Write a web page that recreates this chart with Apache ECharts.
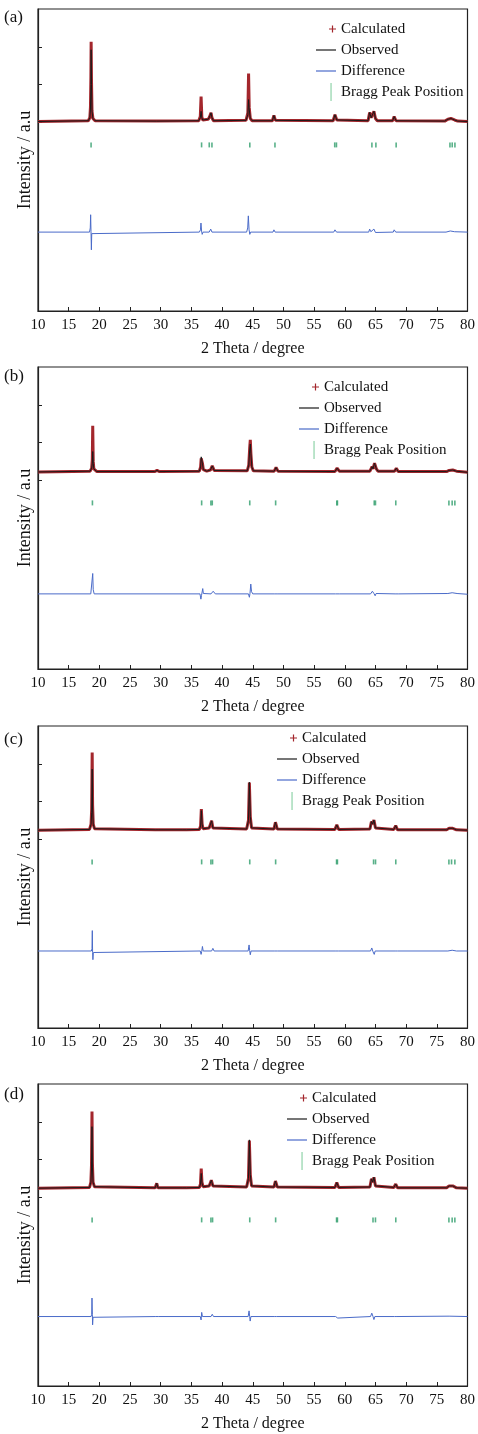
<!DOCTYPE html>
<html>
<head>
<meta charset="utf-8">
<script src="https://cdn.jsdelivr.net/npm/echarts@6/dist/echarts.min.js"></script>
<style>
  html, body { margin: 0; padding: 0; background: #fff; }
  #chart { width: 478px; height: 1434px; }
</style>
</head>
<body>
<div id="chart"></div>
<script>
// x axis ticks (2 Theta, degree)
const xMin = 10, xMax = 80, xStep = 5;
// left y ticks shown in each panel
const yTickValues = [5, 6, 7];

// ---------- panel (a) ----------
const obsA = [[10,5.02],[18.2,5.04],[18.45,5.12],[18.55,5.35],[18.62,6.0],[18.66,6.92],[18.72,6.0],[18.8,5.3],[18.95,5.1],[19.3,5.04],
  [29.3,5.03],[36.2,5.04],[36.45,5.12],[36.58,5.29],[36.7,5.12],[36.85,5.06],[37.75,5.08],[37.95,5.14],[38.05,5.1],[38.2,5.25],[38.35,5.12],[38.6,5.04],
  [43.9,5.05],[44.2,5.2],[44.32,5.6],[44.42,5.35],[44.6,5.1],[44.9,5.04],[48.2,5.04],[48.45,5.18],[48.7,5.05],
  [58.1,5.04],[58.4,5.2],[58.7,5.06],[58.9,5.03],[63.8,5.04],[64.05,5.26],[64.3,5.12],[64.5,5.15],[64.75,5.29],[65.0,5.1],[65.3,5.04],
  [67.8,5.04],[68.05,5.15],[68.35,5.04],[76.3,5.03],[76.8,5.08],[77.3,5.1],[77.9,5.06],[78.4,5.03],[80,5.02]];
const calcA = [[10,5.02],[18.2,5.04],[18.45,5.12],[18.55,5.4],[18.62,6.2],[18.66,7.13],[18.72,6.1],[18.8,5.3],[18.95,5.1],[19.3,5.04],
  [29.3,5.03],[36.2,5.04],[36.45,5.15],[36.58,5.68],[36.7,5.14],[36.85,5.06],[37.75,5.08],[37.95,5.14],[38.05,5.1],[38.2,5.25],[38.35,5.12],[38.6,5.04],
  [43.9,5.05],[44.2,5.25],[44.32,6.29],[44.42,5.4],[44.6,5.1],[44.9,5.04],[48.2,5.04],[48.45,5.18],[48.7,5.05],
  [58.1,5.04],[58.4,5.2],[58.7,5.06],[58.9,5.03],[63.8,5.04],[64.05,5.26],[64.3,5.12],[64.5,5.15],[64.75,5.29],[65.0,5.1],[65.3,5.04],
  [67.8,5.04],[68.05,5.15],[68.35,5.04],[76.3,5.03],[76.8,5.08],[77.3,5.1],[77.9,5.06],[78.4,5.03],[80,5.02]];
const diffA = [[10,2.09],[18.4,2.09],[18.52,2.2],[18.58,2.55],[18.64,2.1],[18.7,1.62],[18.76,2.05],[18.9,2.09],
  [36.3,2.09],[36.48,2.15],[36.56,2.33],[36.66,2.12],[36.76,2.03],[36.9,2.09],[37.9,2.09],[38.15,2.17],[38.35,2.09],
  [44.0,2.09],[44.18,2.2],[44.28,2.52],[44.4,2.15],[44.52,2.03],[44.65,2.09],[48.3,2.09],[48.45,2.15],[48.65,2.09],
  [58.2,2.09],[58.4,2.15],[58.65,2.09],[63.9,2.09],[64.05,2.17],[64.25,2.1],[64.5,2.12],[64.75,2.17],[65.0,2.08],[65.2,2.09],
  [67.9,2.09],[68.05,2.15],[68.3,2.09],[76.5,2.09],[77.2,2.12],[77.9,2.1],[80,2.09]];
const braggA = [18.65, 36.66, 37.91, 38.35, 44.52, 48.62, 58.36, 58.64, 64.42, 65.07, 68.37, 77.14, 77.51, 77.95];

// ---------- panel (b) ----------
const obsB = [[10,5.22],[18.5,5.24],[18.75,5.32],[18.85,5.45],[18.92,5.76],[19.0,5.45],[19.1,5.3],[19.3,5.25],[19.6,5.23],
  [29.0,5.23],[29.4,5.26],[29.8,5.23],[36.3,5.24],[36.5,5.35],[36.6,5.62],[36.7,5.58],[36.8,5.45],[36.95,5.28],[37.5,5.24],
  [38.1,5.27],[38.4,5.38],[38.7,5.26],[39.0,5.23],[44.1,5.25],[44.35,5.4],[44.5,5.8],[44.6,5.96],[44.7,5.7],[44.85,5.35],[45.1,5.25],
  [48.5,5.24],[48.8,5.34],[49.1,5.24],[58.4,5.23],[58.75,5.32],[59.1,5.24],
  [64.1,5.24],[64.45,5.36],[64.6,5.3],[64.85,5.45],[65.15,5.3],[65.4,5.24],[68.1,5.24],[68.4,5.32],[68.7,5.23],
  [76.6,5.23],[77.0,5.26],[77.6,5.27],[78.2,5.24],[80,5.21]];
const calcB = [[10,5.22],[18.5,5.24],[18.75,5.32],[18.85,5.55],[18.92,6.44],[19.0,5.5],[19.1,5.3],[19.3,5.25],[19.6,5.23],
  [29.0,5.23],[29.4,5.26],[29.8,5.23],[36.3,5.24],[36.5,5.35],[36.6,5.58],[36.7,5.55],[36.8,5.45],[36.95,5.28],[37.5,5.24],
  [38.1,5.27],[38.4,5.38],[38.7,5.26],[39.0,5.23],[44.1,5.25],[44.35,5.4],[44.5,5.85],[44.6,6.07],[44.7,5.7],[44.85,5.35],[45.1,5.25],
  [48.5,5.24],[48.8,5.34],[49.1,5.24],[58.4,5.23],[58.75,5.32],[59.1,5.24],
  [64.1,5.24],[64.45,5.36],[64.6,5.3],[64.85,5.45],[65.15,5.3],[65.4,5.24],[68.1,5.24],[68.4,5.32],[68.7,5.23],
  [76.6,5.23],[77.0,5.26],[77.6,5.27],[78.2,5.24],[80,5.21]];
const diffB = [[10,1.99],[18.6,1.99],[18.75,1.94],[18.85,2.0],[18.92,2.53],[19.0,2.1],[19.15,1.99],
  [36.4,1.99],[36.55,1.85],[36.65,1.95],[36.85,2.13],[36.95,2.0],[37.2,1.99],[38.2,1.99],[38.55,2.06],[38.9,1.99],
  [44.3,1.99],[44.45,1.9],[44.55,2.0],[44.68,2.25],[44.8,2.05],[45.0,1.99],[48.6,1.99],[48.85,2.04],[49.1,1.99],
  [58.5,1.99],[58.8,2.02],[59.1,1.99],[64.2,1.99],[64.5,2.06],[64.75,2.0],[64.95,1.94],[65.1,2.0],[65.3,1.99],
  [68.2,1.99],[68.5,2.02],[68.8,1.99],[76.8,2.0],[77.5,2.02],[78.3,2.0],[80,1.98]];
const braggB = [18.87, 36.67, 38.18, 38.4, 44.51, 48.73, 58.7, 58.8, 64.8, 65.0, 68.31, 76.97, 77.5, 77.94];

// ---------- panel (c) ----------
const obsC = [[10,5.24],[18.4,5.26],[18.65,5.4],[18.75,5.7],[18.83,6.86],[18.9,5.8],[19.0,5.4],[19.2,5.28],[19.5,5.25],
  [29.1,5.25],[29.4,5.28],[29.7,5.25],[33.6,5.25],[33.9,5.27],[34.2,5.25],
  [36.3,5.26],[36.5,5.35],[36.62,5.76],[36.75,5.4],[36.9,5.28],[37.9,5.3],[38.3,5.49],[38.5,5.3],[38.8,5.26],
  [44.0,5.27],[44.3,5.5],[44.45,6.51],[44.6,5.6],[44.8,5.3],[45.1,5.26],[48.45,5.27],[48.7,5.45],[49.0,5.27],
  [58.4,5.26],[58.7,5.38],[59.0,5.26],[64.1,5.27],[64.35,5.47],[64.55,5.4],[64.75,5.51],[65.0,5.3],[65.3,5.25],
  [68.0,5.26],[68.3,5.36],[68.6,5.25],[76.6,5.25],[77.0,5.29],[77.6,5.29],[78.2,5.25],[80,5.24]];
const calcC = [[10,5.24],[18.4,5.26],[18.65,5.4],[18.75,5.8],[18.83,7.3],[18.9,5.9],[19.0,5.4],[19.2,5.28],[19.5,5.25],
  [29.1,5.25],[29.4,5.28],[29.7,5.25],[33.6,5.25],[33.9,5.27],[34.2,5.25],
  [36.3,5.26],[36.5,5.35],[36.62,5.8],[36.75,5.4],[36.9,5.28],[37.9,5.3],[38.3,5.49],[38.5,5.3],[38.8,5.26],
  [44.0,5.27],[44.3,5.5],[44.45,6.5],[44.6,5.6],[44.8,5.3],[45.1,5.26],[48.45,5.27],[48.7,5.45],[49.0,5.27],
  [58.4,5.26],[58.7,5.38],[59.0,5.26],[64.1,5.27],[64.35,5.47],[64.55,5.4],[64.75,5.51],[65.0,5.3],[65.3,5.25],
  [68.0,5.26],[68.3,5.36],[68.6,5.25],[76.6,5.25],[77.0,5.29],[77.6,5.29],[78.2,5.25],[80,5.24]];
const diffC = [[10,2.04],[18.7,2.04],[18.8,2.1],[18.85,2.58],[18.9,2.0],[18.95,1.81],[19.02,2.0],[19.2,2.04],
  [36.45,2.04],[36.58,1.95],[36.68,2.02],[36.8,2.16],[36.92,2.04],[38.3,2.04],[38.5,2.11],[38.7,2.04],
  [44.25,2.04],[44.4,2.2],[44.5,2.05],[44.6,1.94],[44.72,2.04],[48.6,2.04],[48.8,2.09],[49.0,2.04],
  [58.55,2.04],[58.7,2.08],[58.85,2.0],[59.0,2.04],[64.2,2.04],[64.4,2.12],[64.6,2.02],[64.8,1.95],[64.95,2.04],
  [68.2,2.04],[68.4,2.07],[68.6,2.04],[76.8,2.04],[77.5,2.06],[78.2,2.04],[80,2.04]];
const braggC = [18.82, 36.67, 38.18, 38.45, 44.51, 48.73, 58.66, 58.8, 64.69, 65.01, 68.31, 76.97, 77.4, 77.94];

// ---------- panel (d) ----------
const obsD = [[10,5.24],[18.4,5.26],[18.62,5.4],[18.72,5.75],[18.8,6.87],[18.87,5.8],[18.97,5.4],[19.2,5.28],[19.5,5.25],
  [29.1,5.25],[29.35,5.37],[29.55,5.25],[33.6,5.25],[33.9,5.27],[34.2,5.25],
  [36.3,5.26],[36.48,5.35],[36.6,5.63],[36.72,5.38],[36.9,5.28],[37.9,5.3],[38.25,5.45],[38.5,5.3],[38.8,5.26],
  [44.0,5.27],[44.3,5.5],[44.45,6.52],[44.6,5.6],[44.8,5.3],[45.1,5.26],[48.45,5.27],[48.7,5.43],[49.0,5.27],
  [58.4,5.26],[58.7,5.39],[59.0,5.26],[64.1,5.27],[64.35,5.49],[64.55,5.4],[64.75,5.53],[65.0,5.3],[65.3,5.25],
  [68.0,5.26],[68.3,5.35],[68.6,5.25],[76.6,5.25],[77.0,5.3],[77.6,5.3],[78.2,5.25],[80,5.24]];
const calcD = [[10,5.24],[18.4,5.26],[18.62,5.4],[18.72,5.85],[18.8,7.27],[18.87,5.9],[18.97,5.4],[19.2,5.28],[19.5,5.25],
  [29.1,5.25],[29.35,5.37],[29.55,5.25],[33.6,5.25],[33.9,5.27],[34.2,5.25],
  [36.3,5.26],[36.48,5.35],[36.6,5.76],[36.72,5.4],[36.9,5.28],[37.9,5.3],[38.25,5.45],[38.5,5.3],[38.8,5.26],
  [44.0,5.27],[44.3,5.5],[44.45,6.5],[44.6,5.6],[44.8,5.3],[45.1,5.26],[48.45,5.27],[48.7,5.43],[49.0,5.27],
  [58.4,5.26],[58.7,5.39],[59.0,5.26],[64.1,5.27],[64.35,5.49],[64.55,5.4],[64.75,5.53],[65.0,5.3],[65.3,5.25],
  [68.0,5.26],[68.3,5.35],[68.6,5.25],[76.6,5.25],[77.0,5.3],[77.6,5.3],[78.2,5.25],[80,5.24]];
const diffD = [[10,1.84],[18.65,1.84],[18.75,1.9],[18.8,2.33],[18.86,1.9],[18.9,1.62],[18.97,1.82],[19.2,1.84],
  [29.2,1.84],[29.4,1.88],[29.6,1.84],[36.45,1.84],[36.58,1.75],[36.68,1.95],[36.8,1.84],[38.2,1.84],[38.4,1.9],[38.6,1.84],
  [44.25,1.84],[44.4,1.99],[44.5,1.84],[44.58,1.72],[44.7,1.84],[48.5,1.84],[48.7,1.88],[48.9,1.84],
  [58.5,1.84],[58.7,1.88],[58.85,1.8],[59.0,1.84],[64.2,1.84],[64.4,1.93],[64.6,1.84],[64.75,1.76],[64.9,1.84],
  [68.1,1.84],[68.3,1.86],[68.5,1.84],[77,1.85],[80,1.84]];
const braggD = [18.82, 36.67, 38.18, 38.45, 44.51, 48.73, 58.66, 58.8, 64.6, 65.0, 68.31, 76.97, 77.5, 77.94];
const braggLevel = 4.4;

const panelLabels = ['(a)', '(b)', '(c)', '(d)'];
const seriesNames = ['Calculated', 'Observed', 'Difference', 'Bragg Peak Position'];
const xName = '2 Theta / degree';
const yName = 'Intensity / a.u';

const panels = [
  { obs: obsA, calc: calcA, diff: diffA, bragg: braggA },
  { obs: obsB, calc: calcB, diff: diffB, bragg: braggB },
  { obs: obsC, calc: calcC, diff: diffC, bragg: braggC },
  { obs: obsD, calc: calcD, diff: diffD, bragg: braggD }
];

// layout (pixels)
const gridTops = [9, 367, 726, 1084];
const labelTops = [9, 368, 731, 1086];
const legendPos = [[314, 20], [297, 378], [275, 729], [285, 1089]];

const FONT = '"Liberation Serif", "Times New Roman", serif';
const RED = '#a3262c', BLACK = '#1a1a1a', BLUE = '#4a6bc9', GREEN = '#2f9e6b';

// legend icons: 22x18 box kept by the leading moveTo points
const iconPlus = 'path://M0,0 M22,18 M15,8.4 h7 v1.2 h-7 z M17.9,5.5 h1.2 v7 h-1.2 z';
const iconLine = 'path://M0,0 M22,18 M2,8.4 h20 v1.2 h-20 z';
const iconBar = 'path://M0,0 M22,18 M16.3,0 h1.5 v18 h-1.5 z';

const chart = echarts.init(document.getElementById('chart'));

const grid = [], xAxis = [], yAxis = [], series = [], legend = [], title = [];

panels.forEach((p, i) => {
  grid.push({
    left: 38, right: 9, top: gridTops[i], height: 302,
    show: true, borderColor: '#222', borderWidth: 1.2
  });
  xAxis.push({
    type: 'value', gridIndex: i, min: xMin, max: xMax, interval: xStep,
    name: xName, nameLocation: 'middle', nameGap: 30,
    nameTextStyle: { fontFamily: FONT, fontSize: 16, color: '#111' },
    axisLine: { lineStyle: { color: '#222', width: 1.2 } },
    axisTick: { inside: true, length: 4, lineStyle: { color: '#222' } },
    axisLabel: { fontFamily: FONT, fontSize: 15, color: '#111', margin: 7 },
    splitLine: { show: false }
  });
  yAxis.push({
    type: 'value', gridIndex: i, min: 0, max: 8,
    name: yName, nameLocation: 'middle', nameGap: 4,
    nameTextStyle: { fontFamily: FONT, fontSize: 18, color: '#111' },
    axisLine: { show: true, lineStyle: { color: '#222', width: 1.2 } },
    axisTick: { show: true, inside: true, length: 4, customValues: yTickValues, lineStyle: { color: '#222' } },
    axisLabel: { show: false },
    splitLine: { show: false }
  });
  series.push({
    name: seriesNames[0], type: 'line', xAxisIndex: i, yAxisIndex: i,
    data: p.calc, showSymbol: false, color: RED,
    lineStyle: { color: RED, width: 3 }, z: 2
  });
  series.push({
    name: seriesNames[1], type: 'line', xAxisIndex: i, yAxisIndex: i,
    data: p.obs, showSymbol: false, color: BLACK,
    lineStyle: { color: BLACK, width: 1 }, z: 3
  });
  series.push({
    name: seriesNames[2], type: 'line', xAxisIndex: i, yAxisIndex: i,
    data: p.diff, showSymbol: false, color: BLUE,
    lineStyle: { color: BLUE, width: 1 }, z: 2
  });
  series.push({
    name: seriesNames[3], type: 'scatter', xAxisIndex: i, yAxisIndex: i,
    data: p.bragg.map(x => [x, braggLevel]),
    symbol: 'rect', symbolSize: [1.6, 5], color: GREEN, z: 2
  });
  legend.push({
    orient: 'vertical', left: legendPos[i][0], top: legendPos[i][1],
    padding: 0, itemGap: 3, itemWidth: 22, itemHeight: 18,
    textStyle: { fontFamily: FONT, fontSize: 15, color: '#111' },
    selectedMode: false,
    data: [
      { name: seriesNames[0], icon: iconPlus, itemStyle: { color: RED, borderWidth: 0 } },
      { name: seriesNames[1], icon: iconLine, itemStyle: { color: BLACK, borderWidth: 0 } },
      { name: seriesNames[2], icon: iconLine, itemStyle: { color: BLUE, borderWidth: 0 } },
      { name: seriesNames[3], icon: iconBar, itemStyle: { color: '#8fd3a9', borderWidth: 0 } }
    ]
  });
  title.push({
    text: panelLabels[i], left: 4, top: labelTops[i], padding: 0,
    textStyle: { fontFamily: FONT, fontSize: 17, fontWeight: 'normal', color: '#111' }
  });
});

chart.setOption({
  animation: false,
  backgroundColor: '#fff',
  title: title,
  grid: grid,
  xAxis: xAxis,
  yAxis: yAxis,
  legend: legend,
  series: series
});

window.addEventListener('resize', function () {
  chart.resize();
});
</script>
</body>
</html>
